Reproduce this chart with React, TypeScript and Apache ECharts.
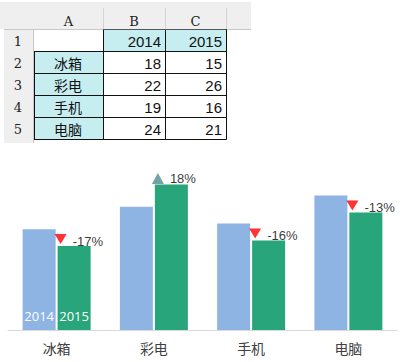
import React, { useEffect, useRef } from "react";
import * as echarts from "echarts";

const categories = ["冰箱", "彩电", "手机", "电脑"];
const years = ["2014", "2015"];
const values2014 = [18, 22, 19, 24];
const values2015 = [15, 26, 16, 21];
const changeLabels = ["-17%", "18%", "-16%", "-13%"];
const columnLetters = ["A", "B", "C"];
const rowNumbers = ["1", "2", "3", "4", "5"];

const CYAN = "#c6eef1";
const HEADER_GRAY = "#efefef";
const BLUE = "#8eb4e3";
const GREEN = "#28a57a";

function buildTable(): any[] {
  const colX = [34, 103, 165, 226];
  const rowY = [29, 51, 73, 95, 117, 139];
  const els: any[] = [];
  els.push({ type: "rect", shape: { x: 0, y: 2, width: 251, height: 27 }, style: { fill: HEADER_GRAY } });
  els.push({ type: "rect", shape: { x: 4, y: 29, width: 30, height: 114 }, style: { fill: HEADER_GRAY } });
  [103, 165, 226].forEach((x) =>
    els.push({ type: "line", shape: { x1: x + 0.5, y1: 8, x2: x + 0.5, y2: 29 }, style: { stroke: "#d4d4d4", lineWidth: 1 } })
  );
  els.push({ type: "line", shape: { x1: 4, y1: 29.5, x2: 251, y2: 29.5 }, style: { stroke: "#c8c8c8", lineWidth: 1 } });
  els.push({ type: "line", shape: { x1: 33.5, y1: 29, x2: 33.5, y2: 143 }, style: { stroke: "#c8c8c8", lineWidth: 1 } });
  columnLetters.forEach((c, i) =>
    els.push({
      type: "text",
      x: (colX[i] + colX[i + 1]) / 2,
      y: 21,
      style: { text: c, fill: "#222", font: "13px 'DejaVu Serif', serif", align: "center", verticalAlign: "middle" },
    })
  );
  rowNumbers.forEach((r, i) =>
    els.push({
      type: "text",
      x: 18,
      y: (rowY[i] + rowY[i + 1]) / 2 + 1,
      style: { text: r, fill: "#222", font: "13px 'DejaVu Serif', serif", align: "center", verticalAlign: "middle" },
    })
  );
  els.push({ type: "rect", shape: { x: 103, y: 29, width: 123, height: 22 }, style: { fill: CYAN } });
  els.push({ type: "rect", shape: { x: 34, y: 51, width: 69, height: 88 }, style: { fill: CYAN } });
  const stroke = "#111";
  [103, 165, 226].forEach((x) =>
    els.push({ type: "line", shape: { x1: x + 0.5, y1: 29, x2: x + 0.5, y2: 139.5 }, style: { stroke, lineWidth: 1 } })
  );
  els.push({ type: "line", shape: { x1: 34.5, y1: 51, x2: 34.5, y2: 139.5 }, style: { stroke, lineWidth: 1 } });
  els.push({ type: "line", shape: { x1: 103, y1: 29.5, x2: 226.5, y2: 29.5 }, style: { stroke: "#555", lineWidth: 1 } });
  [51, 73, 95, 117, 139].forEach((y) =>
    els.push({ type: "line", shape: { x1: 34, y1: y + 0.5, x2: 226.5, y2: y + 0.5 }, style: { stroke, lineWidth: 1 } })
  );
  years.forEach((yr, i) =>
    els.push({
      type: "text",
      x: colX[i + 2] - 4,
      y: 41,
      style: { text: yr, fill: "#111", font: "15px 'Liberation Sans', Arial, sans-serif", align: "right", verticalAlign: "middle" },
    })
  );
  categories.forEach((cat, r) => {
    const cy = (rowY[r + 1] + rowY[r + 2]) / 2 + 1;
    els.push({
      type: "text",
      x: 68,
      y: cy,
      style: { text: cat, fill: "#111", font: "14px 'Noto Sans CJK SC', sans-serif", align: "center", verticalAlign: "middle" },
    });
    [values2014[r], values2015[r]].forEach((v, c) =>
      els.push({
        type: "text",
        x: colX[c + 2] - 4,
        y: cy,
        style: { text: String(v), fill: "#111", font: "15px 'Liberation Sans', Arial, sans-serif", align: "right", verticalAlign: "middle" },
      })
    );
  });
  return els;
}

export default function App() {
  const ref = useRef<HTMLDivElement>(null);
  useEffect(() => {
    if (!ref.current) return;
    const chart = echarts.init(ref.current, null, { renderer: "svg" });
    const insideLabel = (text: string) => ({
      show: true,
      position: "insideBottom",
      distance: 8,
      formatter: text,
      color: "#ffffff",
      fontSize: 13,
      fontFamily: "'Open Sans', 'Liberation Sans', sans-serif",
    });
    chart.setOption({
      animation: false,
      backgroundColor: "#ffffff",
      grid: { left: 8, right: 11, top: 162, bottom: 32, containLabel: false },
      xAxis: {
        type: "category",
        data: categories,
        axisLine: { lineStyle: { color: "#d9d9d9", width: 1 } },
        axisTick: { show: false },
        axisLabel: { fontSize: 14, color: "#404040", margin: 11, fontFamily: "'Noto Sans CJK SC', sans-serif" },
      },
      yAxis: { type: "value", min: 0, max: 30, show: false, splitLine: { show: false } },
      graphic: buildTable(),
      series: [
        {
          type: "bar",
          name: years[0],
          barWidth: 33,
          barGap: "6%",
          itemStyle: { color: BLUE },
          data: values2014.map((v, i) => (i === 0 ? { value: v, label: insideLabel(years[0]) } : v)),
        },
        {
          type: "bar",
          name: years[1],
          barWidth: 33,
          barGap: "6%",
          itemStyle: { color: GREEN },
          data: values2015.map((v, i) => (i === 0 ? { value: v, label: insideLabel(years[1]) } : v)),
        },
        {
          type: "scatter",
          z: 5,
          data: values2015.map((v, i) => {
            const down = v < values2014[i];
            return {
              value: v,
              symbol: "triangle",
              symbolSize: down ? [12, 10] : [12, 11],
              symbolRotate: down ? 180 : 0,
              symbolOffset: down ? [4, -7] : [4, -6],
              itemStyle: { color: down ? "#ff0000" : "#4f8b8c" },
              label: { offset: down ? [0, 2] : [0, 0] },
            };
          }),
          label: {
            show: true,
            position: "right",
            distance: 6,
            color: "#000000",
            fontSize: 13,
            fontFamily: "'Liberation Sans', Arial, sans-serif",
            formatter: (p: any) => changeLabels[p.dataIndex],
          },
        },
      ],
    });
    return () => chart.dispose();
  }, []);
  return (
    <div
      ref={ref}
      style={{ position: "fixed", left: 0, top: 0, width: 408, height: 362, background: "#fff" }}
    />
  );
}
